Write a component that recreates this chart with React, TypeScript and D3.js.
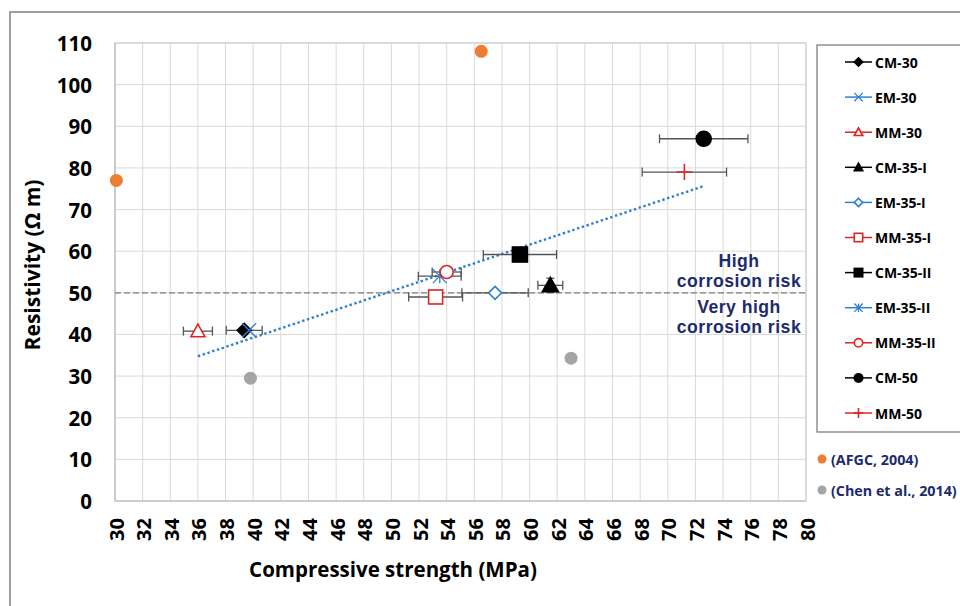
import React from "react";
import * as d3 from "d3";

const seriesNames = ["CM-30", "EM-30", "MM-30", "CM-35-I", "EM-35-I", "MM-35-I", "CM-35-II", "EM-35-II", "MM-35-II", "CM-50", "MM-50"];
const strength = [39.35, 39.7, 36.0, 61.5, 57.5, 53.2, 59.3, 53.5, 54.0, 72.6, 71.2];
const resistivity = [41.0, 41.0, 40.8, 51.8, 50.0, 49.0, 59.2, 54.0, 55.0, 87.0, 79.0];
const strengthErr = [1.3, 0.0, 1.05, 0.9, 2.4, 1.95, 2.65, 1.55, 1.05, 3.2, 3.05];
const resistivityErr = [0.0, 0.0, 0.0, 1.7, 0.0, 1.0, 0.0, 0.0, 0.0, 1.5, 0.0];
const markerShapes = ["diamond", "x", "triangle", "triangle", "diamond", "square", "square", "asterisk", "circle", "circle", "plus"];
const markerFilled = [true, false, false, true, false, false, true, false, false, true, false];
const seriesColors = ["#000000", "#2E7FD0", "#E02424", "#000000", "#2E7FD0", "#E02424", "#000000", "#2E7FD0", "#E02424", "#000000", "#E02424"];
const markerSizes = [7, 7, 7, 8, 6.5, 7, 7.5, 7, 6.5, 7.5, 8];

const afgcStrength = [30.1, 56.5];
const afgcResistivity = [77, 108];
const chenStrength = [39.8, 63.0];
const chenResistivity = [29.5, 34.3];

const xTicks = d3.range(30, 81, 2);
const yTicks = d3.range(0, 111, 10);
const riskThreshold = 50;
const riskLabelAbove = ["High", "corrosion risk"];
const riskLabelBelow = ["Very high", "corrosion risk"];

const FONT = "'Open Sans', Lato, sans-serif";
const NAVY = "#1C2B6E";

function Marker({ shape, cx, cy, s, color, filled }: any) {
  const fill = filled ? color : "#fff";
  const sw = 1.6;
  switch (shape) {
    case "diamond":
      return <path d={`M${cx},${cy - s}L${cx + s},${cy}L${cx},${cy + s}L${cx - s},${cy}Z`} fill={fill} stroke={color} strokeWidth={sw} />;
    case "triangle":
      return <path d={`M${cx},${cy - s}L${cx + s},${cy + s * 0.8}L${cx - s},${cy + s * 0.8}Z`} fill={fill} stroke={color} strokeWidth={sw} />;
    case "square":
      return <rect x={cx - s} y={cy - s} width={2 * s} height={2 * s} fill={fill} stroke={color} strokeWidth={sw} />;
    case "circle":
      return <circle cx={cx} cy={cy} r={s} fill={fill} stroke={color} strokeWidth={sw} />;
    case "x":
      return <path d={`M${cx - s},${cy - s}L${cx + s},${cy + s}M${cx - s},${cy + s}L${cx + s},${cy - s}`} stroke={color} strokeWidth={1.3} fill="none" />;
    case "plus":
      return <path d={`M${cx - s},${cy}L${cx + s},${cy}M${cx},${cy - s}L${cx},${cy + s}`} stroke={color} strokeWidth={1.6} fill="none" />;
    case "asterisk":
      return <path d={`M${cx - s},${cy - s}L${cx + s},${cy + s}M${cx - s},${cy + s}L${cx + s},${cy - s}M${cx},${cy - s}L${cx},${cy + s}`} stroke={color} strokeWidth={1.3} fill="none" />;
    default:
      return null;
  }
}

export default function App() {
  const W = 960, H = 606;
  const left = 115, right = 806, top = 43, bottom = 501;
  const x = d3.scaleLinear().domain([30, 80]).range([left, right]);
  const y = d3.scaleLinear().domain([0, 110]).range([bottom, top]);

  // linear regression trendline
  const n = strength.length;
  const mx = d3.mean(strength) as number;
  const my = d3.mean(resistivity) as number;
  let sxy = 0, sxx = 0;
  for (let i = 0; i < n; i++) {
    sxy += (strength[i] - mx) * (resistivity[i] - my);
    sxx += (strength[i] - mx) ** 2;
  }
  const slope = sxy / sxx;
  const icpt = my - slope * mx;
  const [xmin, xmax] = d3.extent(strength) as [number, number];
  const trend = d3.line<number>().x((d) => x(d)).y((d) => y(slope * d + icpt))([xmin, xmax]);

  const errColor = "#555";
  const legendX = 817, legendTop = 45, legendBottom = 432;
  const rowY = (i: number) => 62 + i * 35.1;

  return (
    <svg width={W} height={H} style={{ position: "absolute", left: 0, top: 0, background: "#fff" }} fontFamily={FONT}>
      <rect x={0} y={0} width={W} height={H} fill="#fff" />
      {/* outer frame */}
      <path d={`M10,${H}L10,12L${W},12`} fill="none" stroke="#808080" strokeWidth={1.5} />

      {/* grid */}
      {xTicks.map((t) => (
        <line key={"gx" + t} x1={x(t)} x2={x(t)} y1={top} y2={bottom} stroke="#d9d9d9" strokeWidth={1} />
      ))}
      {yTicks.map((t) => (
        <line key={"gy" + t} x1={left} x2={right} y1={y(t)} y2={y(t)} stroke="#d9d9d9" strokeWidth={1} />
      ))}
      <rect x={left} y={top} width={right - left} height={bottom - top} fill="none" stroke="#d0d0d0" strokeWidth={1.2} />
      <line x1={left} x2={left} y1={top} y2={bottom} stroke="#bfbfbf" strokeWidth={1.2} />
      <line x1={left} x2={right} y1={bottom} y2={bottom} stroke="#bfbfbf" strokeWidth={1.2} />

      {/* y tick labels */}
      {yTicks.map((t) => (
        <text key={"yl" + t} x={92} y={y(t)} textAnchor="end" dominantBaseline="central" fontSize={20.5} fontWeight={700} fill="#000">
          {t}
        </text>
      ))}
      {/* x tick labels */}
      {xTicks.map((t) => (
        <text key={"xl" + t} transform={`translate(${x(t) + 1},518) rotate(-90)`} textAnchor="end" dominantBaseline="central" fontSize={20} fontWeight={700} fill="#000">
          {t}
        </text>
      ))}

      {/* axis titles */}
      <text x={393} y={577} textAnchor="middle" fontSize={20.5} fontWeight={700} fill="#000">
        Compressive strength (MPa)
      </text>
      <text transform={`translate(40,265) rotate(-90)`} textAnchor="middle" fontSize={21} fontWeight={700} fill="#000">
        Resistivity (Ω m)
      </text>

      {/* threshold line */}
      <line x1={left} x2={right} y1={y(riskThreshold)} y2={y(riskThreshold)} stroke="#7f7f7f" strokeWidth={1.3} strokeDasharray="6,3" />

      {/* trendline */}
      <path d={trend || ""} fill="none" stroke="#2E7FD0" strokeWidth={2.4} strokeDasharray="2.4,2.6" />

      {/* reference data */}
      {afgcStrength.map((v, i) => (
        <circle key={"a" + i} cx={x(v)} cy={y(afgcResistivity[i])} r={6.5} fill="#ED7D31" />
      ))}
      {chenStrength.map((v, i) => (
        <circle key={"c" + i} cx={x(v)} cy={y(chenResistivity[i])} r={6.5} fill="#A5A5A5" />
      ))}

      {/* error bars */}
      {seriesNames.map((nm, i) => {
        const cx = x(strength[i]), cy = y(resistivity[i]);
        const ex = strengthErr[i], ey = resistivityErr[i];
        return (
          <g key={"e" + nm} stroke={errColor} strokeWidth={1.3}>
            {ex > 0 && (
              <>
                <line x1={x(strength[i] - ex)} x2={x(strength[i] + ex)} y1={cy} y2={cy} />
                <line x1={x(strength[i] - ex)} x2={x(strength[i] - ex)} y1={cy - 4.5} y2={cy + 4.5} />
                <line x1={x(strength[i] + ex)} x2={x(strength[i] + ex)} y1={cy - 4.5} y2={cy + 4.5} />
              </>
            )}
            {ey > 0 && (
              <>
                <line x1={cx} x2={cx} y1={y(resistivity[i] - ey)} y2={y(resistivity[i] + ey)} />
                <line x1={cx - 4} x2={cx + 4} y1={y(resistivity[i] - ey)} y2={y(resistivity[i] - ey)} />
                <line x1={cx - 4} x2={cx + 4} y1={y(resistivity[i] + ey)} y2={y(resistivity[i] + ey)} />
              </>
            )}
          </g>
        );
      })}

      {/* markers */}
      {seriesNames.map((nm, i) => (
        <Marker key={"m" + nm} shape={markerShapes[i]} cx={x(strength[i])} cy={y(resistivity[i])} s={markerSizes[i]} color={seriesColors[i]} filled={markerFilled[i]} />
      ))}

      {/* risk labels */}
      <g fill={NAVY} fontSize={17.6} fontWeight={700} textAnchor="middle" fontFamily="'Liberation Sans', Arial, sans-serif" letterSpacing={0.5}>
        {riskLabelAbove.map((s, i) => (
          <text key={"ra" + i} x={739} y={267 + i * 20}>{s}</text>
        ))}
        {riskLabelBelow.map((s, i) => (
          <text key={"rb" + i} x={739} y={313 + i * 20}>{s}</text>
        ))}
      </g>

      {/* legend */}
      <rect x={legendX} y={legendTop} width={W - legendX + 5} height={legendBottom - legendTop} fill="#fff" stroke="#7f7f7f" strokeWidth={1.3} />
      {seriesNames.map((nm, i) => {
        const ly = rowY(i);
        return (
          <g key={"l" + nm}>
            <line x1={845} x2={872} y1={ly} y2={ly} stroke={seriesColors[i]} strokeWidth={1.5} />
            <Marker shape={markerShapes[i]} cx={858.5} cy={ly} s={markerShapes[i] === "plus" ? 5 : 4.2} color={seriesColors[i]} filled={markerFilled[i]} />
            <text x={875} y={ly} dominantBaseline="central" fontSize={14} fontWeight={700} fill="#000">
              {nm}
            </text>
          </g>
        );
      })}
      <circle cx={822} cy={459} r={4.5} fill="#ED7D31" />
      <text x={831} y={459} dominantBaseline="central" fontSize={14.3} fontWeight={700} fill={NAVY}>(AFGC, 2004)</text>
      <circle cx={822} cy={490} r={4.5} fill="#A5A5A5" />
      <text x={831} y={490} dominantBaseline="central" fontSize={14.3} fontWeight={700} fill={NAVY}>(Chen et al., 2014)</text>
    </svg>
  );
}
